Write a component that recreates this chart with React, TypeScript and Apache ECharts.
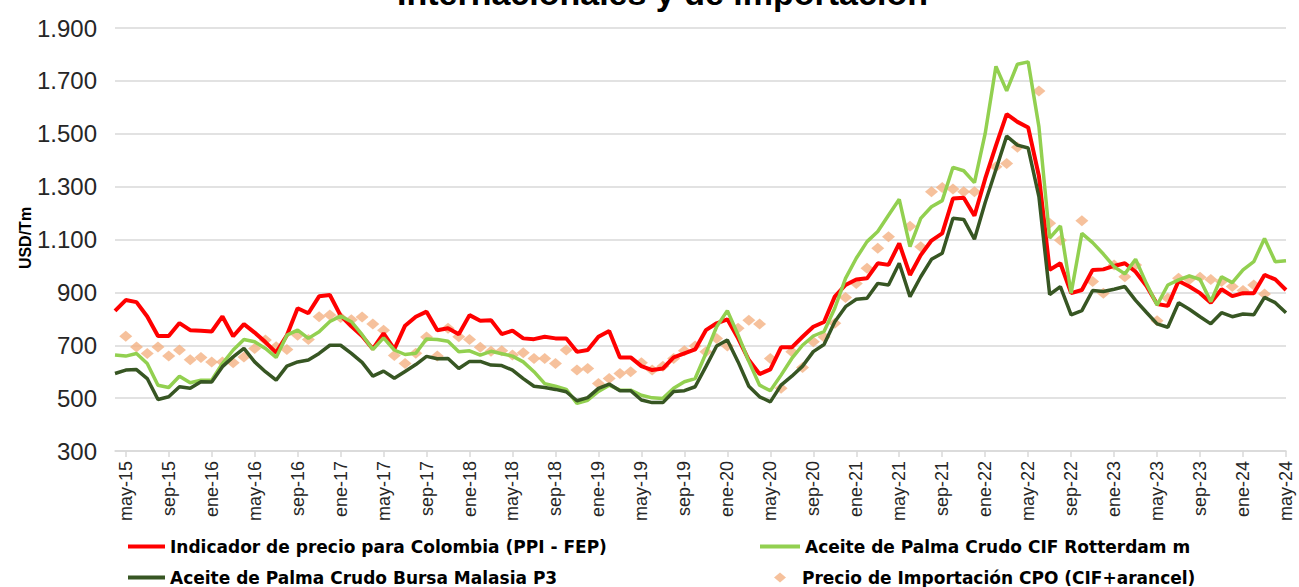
import React, { useEffect, useRef } from "react";
import * as echarts from "echarts";

const monthNames = ["ene", "feb", "mar", "abr", "may", "jun", "jul", "ago", "sep", "oct", "nov", "dic"];
// apr-15 .. may-24
const categories: string[] = [];
for (let y = 2015, m = 3; y < 2024 || (y === 2024 && m <= 4); ) {
  categories.push(`${monthNames[m]}-${String(y).slice(2)}`);
  m++;
  if (m === 12) { m = 0; y++; }
}

const seriesNames = [
  "Indicador de precio para Colombia (PPI - FEP)",
  "Aceite de Palma Crudo CIF Rotterdam m",
  "Aceite de Palma Crudo Bursa Malasia P3",
  "Precio de Importación CPO (CIF+arancel)",
];

const ppiFep = [
  830, 871, 863, 809, 735, 735, 784, 757, 755, 752, 809, 734, 780, 748, 712, 672, 738, 840, 821, 885,
  890, 812, 772, 735, 686, 745, 685, 774, 808, 827, 757, 764, 742, 814, 793, 795, 742, 755, 726, 723,
  732, 726, 726, 675, 682, 732, 754, 654, 654, 621, 606, 612, 654, 669, 684, 757, 783, 798, 726, 644,
  591, 609, 692, 692, 732, 770, 788, 884, 928, 949, 953, 1010, 1004, 1085, 966, 1041, 1096, 1123, 1255, 1258,
  1190, 1330, 1455, 1574, 1545, 1524, 1340, 985, 1010, 897, 909, 985, 987, 1000, 1010, 978, 925, 856, 849, 943,
  922, 897, 861, 912, 886, 897, 897, 966, 949, 909,
];

const cifRotterdam = [
  663, 659, 669, 631, 549, 540, 583, 558, 568, 568, 631, 682, 722, 713, 688, 654, 738, 757, 726, 751,
  790, 810, 789, 740, 684, 728, 682, 665, 670, 724, 722, 715, 675, 679, 663, 677, 668, 659, 637, 600,
  555, 545, 533, 480, 492, 525, 549, 530, 530, 511, 501, 499, 537, 562, 574, 669, 770, 831, 739, 639,
  549, 528, 587, 650, 700, 735, 752, 840, 953, 1029, 1092, 1130, 1192, 1252, 1073, 1180, 1224, 1247, 1373, 1360,
  1315, 1501, 1755, 1662, 1763, 1772, 1527, 1105, 1151, 897, 1123, 1088, 1045, 997, 970, 1025, 934, 852, 928, 947,
  962, 949, 865, 959, 937, 985, 1016, 1104, 1016, 1020,
];

const bursaMalasia = [
  593, 606, 608, 574, 495, 505, 543, 537, 562, 561, 619, 656, 688, 637, 600, 568, 621, 637, 644, 669,
  700, 700, 669, 635, 583, 602, 575, 601, 627, 658, 649, 650, 612, 639, 639, 625, 623, 606, 574, 545,
  540, 533, 524, 490, 502, 537, 553, 528, 528, 493, 483, 483, 525, 528, 543, 619, 697, 720, 637, 545,
  505, 486, 549, 583, 621, 676, 703, 789, 846, 874, 878, 934, 928, 1010, 884, 959, 1025, 1048, 1180, 1176,
  1101, 1240, 1365, 1491, 1457, 1446, 1262, 892, 922, 815, 831, 907, 903, 912, 922, 870, 825, 781, 768, 861,
  836, 808, 781, 823, 808, 818, 815, 881, 861, 823,
];

const precioImportacion: (number | null)[] = [
  null, 734, 693, 669, 693, 659, 682, 645, 654, 637, 637, 634, 656, 688, 720, 694, 684, 738, 722, 808,
  814, 805, 796, 807, 780, 757, 661, 631, 670, 731, 659, 764, 732, 722, 692, 677, 679, 663, 672, 650,
  650, 631, 682, 606, 612, 555, 574, 593, 600, 634, 606, 621, 650, 679, 697, 675, 726, 697, 764, 795,
  780, 650, 537, 675, 616, 713, 731, 783, 881, 934, 991, 1067, 1110, null, 1150, 1073, 1281, 1297, 1291, 1281,
  1281, null, 1375, 1387, 1449, null, 1662, 1161, 1097, null, 1171, 941, 897, 1004, 959, 1004, null, 793, 878, 953,
  949, 957, 949, 941, 922, 907, 928, 894, null, null,
];

const yTicks = { min: 300, max: 1900, interval: 200 };

function fmtThousands(v: number): string {
  if (v >= 1000) return `${Math.floor(v / 1000)}.${String(v % 1000).padStart(3, "0")}`;
  return String(v);
}

export default function App() {
  const ref = useRef<HTMLDivElement>(null);
  useEffect(() => {
    if (!ref.current) return;
    const chart = echarts.init(ref.current, undefined, { renderer: "svg" });
    const legendText = {
      fontFamily: "DejaVu Sans",
      fontWeight: "bold" as const,
      fontSize: 17,
      lineHeight: 16,
      color: "#000000",
    };
    const lineLegend = (name: string, left: number, top: number, width: number) => ({
      data: [{ name, icon: "rect" }],
      left,
      top,
      padding: 0,
      itemWidth: width,
      itemHeight: 4,
      textStyle: legendText,
    });
    chart.setOption({
      animation: false,
      backgroundColor: "#ffffff",
      grid: { left: 115, right: 13, top: 28, bottom: 136, containLabel: false },
      xAxis: {
        type: "category",
        data: categories,
        boundaryGap: false,
        axisLine: { show: true, lineStyle: { color: "#D9D9D9", width: 1.5 } },
        axisTick: {
          show: true,
          interval: (i: number) => i % 4 === 1,
          length: 6,
          lineStyle: { color: "#D9D9D9", width: 1.5 },
        },
        axisLabel: {
          interval: (i: number) => i % 4 === 1,
          rotate: 90,
          margin: 10,
          fontFamily: "Liberation Sans",
          fontSize: 18,
          color: "#262626",
        },
        splitLine: { show: false },
      },
      yAxis: {
        type: "value",
        min: yTicks.min,
        max: yTicks.max,
        interval: yTicks.interval,
        axisLine: { show: false },
        axisTick: { show: false },
        axisLabel: {
          formatter: (v: number) => fmtThousands(v),
          margin: 18,
          fontFamily: "Liberation Sans",
          fontSize: 24,
          color: "#262626",
        },
        splitLine: { lineStyle: { color: "#D9D9D9", width: 1.5 } },
      },
      legend: [
        lineLegend(seriesNames[0], 128, 538, 37),
        lineLegend(seriesNames[1], 760, 538, 40),
        lineLegend(seriesNames[2], 128, 569, 37),
        {
          data: [{ name: seriesNames[3], icon: "diamond" }],
          left: 774,
          top: 569,
          padding: 0,
          itemWidth: 12,
          itemHeight: 10,
          textStyle: { ...legendText, padding: [0, 0, 0, 11] },
        },
      ],
      graphic: [
        {
          type: "text",
          left: 397,
          top: -24,
          style: {
            text: "Internacionales y de importación",
            font: "bold 34px 'Liberation Sans'",
            fill: "#000000",
          },
        },
        {
          type: "text",
          x: 25,
          y: 238,
          rotation: Math.PI / 2,
          style: {
            text: "USD/Tm",
            font: "bold 16px 'Liberation Sans'",
            fill: "#000000",
            textAlign: "center",
            textVerticalAlign: "middle",
          },
        },
      ],
      series: [
        {
          name: seriesNames[0],
          type: "line",
          data: ppiFep,
          symbol: "none",
          lineStyle: { color: "#FF0000", width: 4 },
          itemStyle: { color: "#FF0000" },
        },
        {
          name: seriesNames[1],
          type: "line",
          data: cifRotterdam,
          symbol: "none",
          lineStyle: { color: "#92D050", width: 3.5 },
          itemStyle: { color: "#92D050" },
        },
        {
          name: seriesNames[2],
          type: "line",
          data: bursaMalasia,
          symbol: "none",
          lineStyle: { color: "#375623", width: 3.5 },
          itemStyle: { color: "#375623" },
        },
        {
          name: seriesNames[3],
          type: "scatter",
          data: precioImportacion,
          symbol: "diamond",
          symbolSize: [13, 11],
          itemStyle: { color: "#F4B183" },
        },
      ],
    });
    return () => chart.dispose();
  }, []);
  return <div ref={ref} style={{ position: "fixed", left: 0, top: 0, width: 1299, height: 587 }} />;
}
